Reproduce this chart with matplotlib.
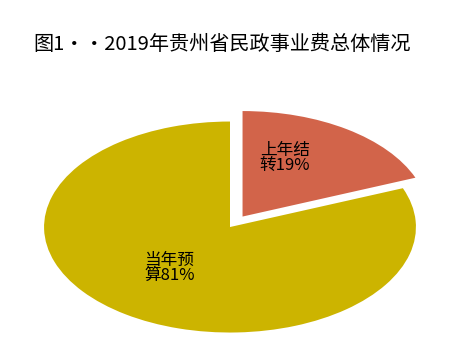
import matplotlib.pyplot as plt

plt.rcParams['font.family'] = ['Noto Sans CJK SC', 'DejaVu Sans']

# 数据
labels = ["上年结\n转19%", "当年预\n算81%"]
values = [19, 81]
colors = ["#D2644A", "#CCB400"]
explode = [0.12, 0]

fig = plt.figure(figsize=(4.52, 3.59), dpi=100)
ax = fig.add_axes([0, 0, 1, 1])

wedges, texts = ax.pie(values, colors=colors, explode=explode,
                       startangle=90, counterclock=False)

# 椭圆形（拉伸）
ax.set_aspect('auto')
ax.set_xlim(-1.237, 1.194)
ax.set_ylim(-1.251, 2.152)
ax.axis('off')

# 标签
ax.text(0.16, 0.655, labels[0], fontsize=12, linespacing=0.85,
        ha='left', va='center')
ax.text(-0.46, -0.39, labels[1], fontsize=12, linespacing=0.85,
        ha='left', va='center')

fig.text(0.492, 0.877, "图1\u00b7\u00b72019年贵州省民政事业费总体情况",
         fontsize=14.5, ha='center', va='center')

fig.savefig("out.png", dpi=100)
